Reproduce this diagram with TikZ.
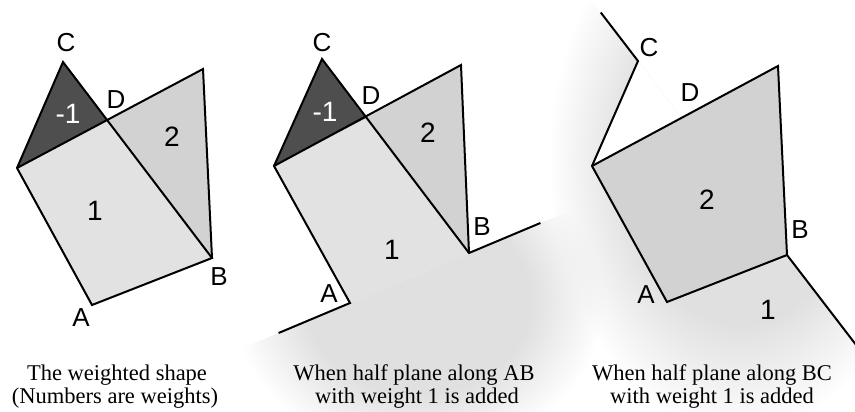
\documentclass[tikz,border=0pt]{standalone}
\usepackage{fontspec}
\setmainfont{Liberation Serif}
\newfontfamily\labfont{Liberation Sans}
\usetikzlibrary{calc,fadings}
\definecolor{sqgray}{HTML}{E2E2E2}
\definecolor{midgray}{HTML}{D2D2D2}
\definecolor{dkgray}{HTML}{4E4E4E}
\definecolor{hpgray}{HTML}{E0E0E0}
\pgfdeclareradialshading{softmaskshade}{\pgfpoint{0bp}{0bp}}{color(0bp)=(white); color(15bp)=(white); color(25bp)=(black); color(50bp)=(black)}
\pgfdeclarefading{softfade}{\pgfuseshading{softmaskshade}}
\begin{document}
\begin{tikzpicture}[x=1pt,y=-1pt,
  edge/.style={line width=2pt, line join=miter},
  sq/.style={fill=sqgray},
  mid/.style={fill=midgray},
  dk/.style={fill=dkgray},
  glow/.style={fill=hpgray, path fading=softfade, fit fading=true},
  lbl/.style={font=\labfont\fontsize{26}{26}\selectfont, inner sep=0pt},
  num/.style={font=\labfont\fontsize{28}{28}\selectfont, inner sep=0pt},
  captext/.style={font=\fontsize{22.5}{23}\selectfont, inner sep=0pt, anchor=base}]
\useasboundingbox[fill=white] (0,0) rectangle (855,412);

% ---------- panel 1 ----------
\coordinate (C1) at (63,62);
\coordinate (D1) at (107,120);
\coordinate (T1) at (203,69);
\coordinate (L1) at (17,168);
\coordinate (B1) at (212,258);
\coordinate (A1) at (92,305);
\fill[sq] (L1)--(D1)--(B1)--(A1)--cycle;
\fill[mid] (D1)--(T1)--(B1)--cycle;
\fill[dk] (L1)--(C1)--(D1)--cycle;
\draw[edge] (A1)--(L1)--(C1)--(B1)--cycle;
\draw[edge] (L1)--(T1)--(B1);
\node[lbl] (lC1) at (66,43) {C};
\node[lbl] (lD1) at (116,100) {D};
\node[lbl] (lB1) at (219,277) {B};
\node[lbl] (lA1) at (81,318) {A};
\node[num, white] (w1a) at (68,114) {-1};
\node[num] (w1b) at (172,137) {2};
\node[num] (w1c) at (95,211) {1};

% ---------- panel 2 half plane ----------
\coordinate (C2) at (322,59);
\coordinate (D2) at (366,118);
\coordinate (T2) at (461,65);
\coordinate (L2) at (274,166);
\coordinate (B2) at (469,253);
\coordinate (A2) at (350,303);
\coordinate (E2a) at ($(B2)!1.6!(A2)$);
\coordinate (E2b) at ($(A2)!1.6!(B2)$);
\coordinate (X2l) at ($(B2)!4!(A2)$);
\coordinate (X2r) at ($(A2)!4!(B2)$);
\begin{scope}
  \clip (X2l)--(X2r)--(830,480)--(-10,480)--cycle;
  \fill[glow] (418,300) ellipse [x radius=185pt, y radius=155pt];
\end{scope}

% ---------- panel 3 half plane ----------
\coordinate (C3) at (638,61);
\coordinate (T3) at (778,66);
\coordinate (L3) at (592,166);
\coordinate (B3) at (787,255);
\coordinate (A3) at (667,302);
\coordinate (D3) at ($(C3)!0.295!(B3)$);
\coordinate (E3a) at ($(B3)!1.25!(C3)$);
\coordinate (E3b) at ($(C3)!1.46!(B3)$);
\coordinate (X3a) at ($(B3)!2!(C3)$);
\coordinate (X3b) at ($(C3)!2.5!(B3)$);
\begin{scope}
  \clip (X3a)--(X3b)--(300,546)--(300,-133)--cycle;
  \fill[glow] (740,160) ellipse [x radius=190pt, y radius=270pt];
\end{scope}

% ---------- panel 2 shapes ----------
\fill[sq] (L2)--(D2)--(B2)--(A2)--cycle;
\fill[mid] (D2)--(T2)--(B2)--cycle;
\fill[dk] (L2)--(C2)--(D2)--cycle;
\draw[edge] (E2a)--(A2)--(L2)--(C2)--(B2)--(E2b);
\draw[edge] (L2)--(T2)--(B2);
\node[lbl] (lC2) at (322,43) {C};
\node[lbl] (lD2) at (371,96) {D};
\node[lbl] (lB2) at (482,227) {B};
\node[lbl] (lA2) at (329,294) {A};
\node[num, white] (w2a) at (325,112) {-1};
\node[num] (w2b) at (428,133) {2};
\node[num] (w2c) at (392,250) {1};

% ---------- panel 3 shapes ----------
\fill[white] (L3)--(C3)--(D3)--cycle;
\fill[mid] (L3)--(T3)--(B3)--(A3)--cycle;
\draw[edge] (E3a)--(C3)--(L3)--(A3)--(B3)--(E3b);
\draw[edge] (L3)--(T3)--(B3);
\node[lbl] (lC3) at (649,48) {C};
\node[lbl] (lD3) at (690,93) {D};
\node[lbl] (lB3) at (800,230) {B};
\node[lbl] (lA3) at (646,295) {A};
\node[num] (w3b) at (707,200) {2};
\node[num] (w3c) at (768,310) {1};

% ---------- captions ----------
\node[captext] (cap1a) at (117,380) {The weighted shape};
\node[captext] (cap1b) at (115,403) {(Numbers are weights)};
\node[captext] (cap2a) at (414,380) {When half plane along AB};
\node[captext] (cap2b) at (417,403) {with weight 1 is added};
\node[captext] (cap3a) at (712,380) {When half plane along BC};
\node[captext] (cap3b) at (712,403) {with weight 1 is added};
\end{tikzpicture}
\end{document}
